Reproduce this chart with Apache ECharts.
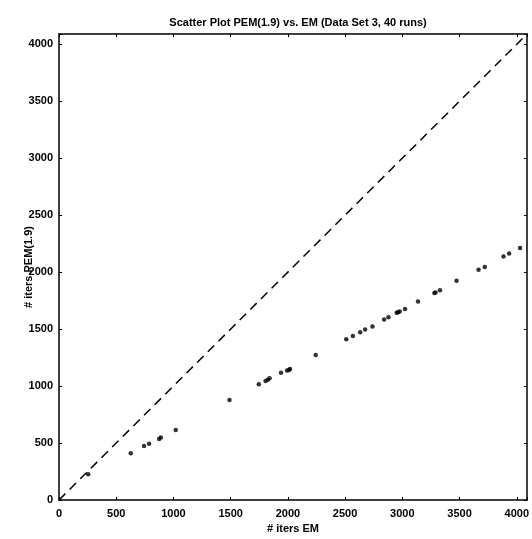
<!DOCTYPE html>
<html><head><meta charset="utf-8">
<script src="https://cdn.jsdelivr.net/npm/echarts@6/dist/echarts.min.js"></script>
<style>html,body{margin:0;padding:0;background:#fff}#c{width:532px;height:539px}</style>
</head><body><div id="c"></div>
<script>
var emIters = [255, 627, 743, 787, 875, 890, 1020, 1490, 1746, 1805, 1825, 1840, 1940, 1993, 2010, 2019, 2243, 2510, 2568, 2632, 2675, 2739, 2841, 2879, 2951, 2962, 2977, 3024, 3137, 3280, 3290, 3329, 3474, 3666, 3721, 3884, 3933, 4029];
var pemIters = [226, 411, 475, 493, 535, 548, 615, 878, 1017, 1045, 1055, 1068, 1116, 1136, 1142, 1150, 1272, 1411, 1440, 1472, 1496, 1522, 1585, 1603, 1643, 1648, 1655, 1676, 1742, 1817, 1822, 1841, 1925, 2020, 2046, 2137, 2163, 2212];
var diagLine = [0, 4090];
var xTicks = [0, 500, 1000, 1500, 2000, 2500, 3000, 3500, 4000];
var yTicks = [0, 500, 1000, 1500, 2000, 2500, 3000, 3500, 4000];

var pts = emIters.map(function (x, i) { return [x, pemIters[i]]; });
var diag = diagLine.map(function (v) { return [v, v]; });
var font = 'Liberation Sans, Arial, sans-serif';
function ax(pos, labels, margin) {
  return {
    type: 'value', min: 0, max: 4090, interval: 500, position: pos,
    axisLine: { show: true, onZero: false, lineStyle: { color: '#000', width: 1.5 } },
    axisTick: { show: true, inside: true, length: 3, lineStyle: { color: '#000' } },
    axisLabel: { show: labels, color: '#000', fontFamily: font, fontWeight: 'bold', fontSize: 11, margin: margin,
      formatter: function (v) { return v <= 4000 ? String(v) : ''; } },
    splitLine: { show: false }
  };
}
var xb = ax('bottom', true, 8), xt = ax('top', false, 6);
var yl = ax('left', true, 6), yr = ax('right', false, 6);
xb.name = '# iters EM'; xb.nameLocation = 'middle'; xb.nameGap = 23; xb.nameMoveOverlap = false;
xb.nameTextStyle = { color: '#000', fontFamily: font, fontWeight: 'bold', fontSize: 11 };
yl.name = '# iters PEM(1.9)'; yl.nameLocation = 'middle'; yl.nameGap = 25; yl.nameMoveOverlap = false;
yl.nameTextStyle = { color: '#000', fontFamily: font, fontWeight: 'bold', fontSize: 11 };
var chart = echarts.init(document.getElementById('c'));
chart.setOption({
  animation: false,
  title: { text: 'Scatter Plot PEM(1.9) vs. EM (Data Set 3, 40 runs)', left: 293, top: 12, textAlign: 'center',
    textStyle: { color: '#000', fontFamily: font, fontWeight: 'bold', fontSize: 11 } },
  grid: { left: 59, right: 4, top: 34, bottom: 34 },
  xAxis: [xb, xt],
  yAxis: [yl, yr],
  series: [
    { type: 'line', data: diag, showSymbol: false, symbol: 'none',
      lineStyle: { color: '#000', width: 1.5, type: [9, 6] } },
    { type: 'scatter', data: pts, symbolSize: 4.5, itemStyle: { color: '#000' } }
  ]
});
</script></body></html>
